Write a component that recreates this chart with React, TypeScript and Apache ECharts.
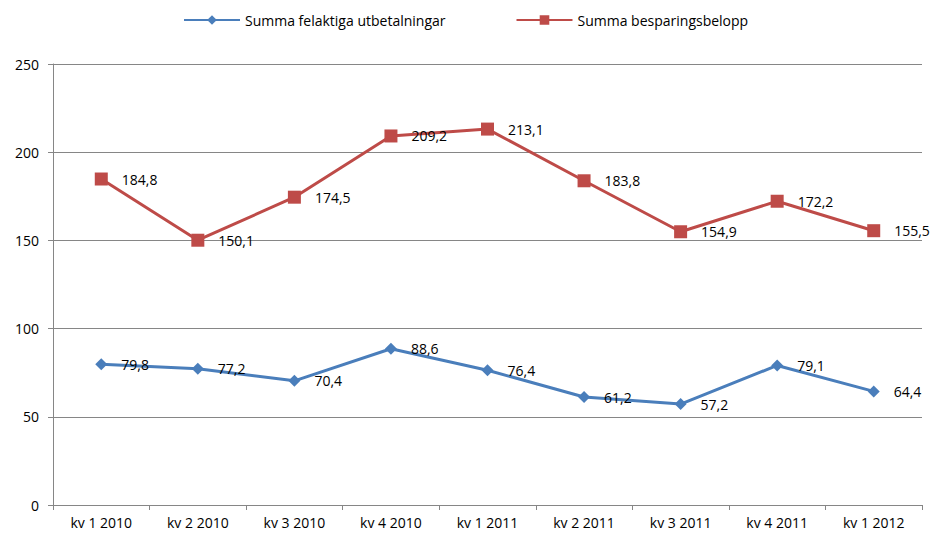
import React, { useEffect, useRef } from "react";
import * as echarts from "echarts";

const categories = ["kv 1 2010", "kv 2 2010", "kv 3 2010", "kv 4 2010", "kv 1 2011", "kv 2 2011", "kv 3 2011", "kv 4 2011", "kv 1 2012"];
const felaktiga = [79.8, 77.2, 70.4, 88.6, 76.4, 61.2, 57.2, 79.1, 64.4];
const besparing = [184.8, 150.1, 174.5, 209.2, 213.1, 183.8, 154.9, 172.2, 155.5];
const seriesNames = ["Summa felaktiga utbetalningar", "Summa besparingsbelopp"];

const FONT = "'Open Sans', 'Liberation Sans', sans-serif";

export default function App() {
  const ref = useRef<HTMLDivElement>(null);
  useEffect(() => {
    if (!ref.current) return;
    const chart = echarts.init(ref.current, undefined, { renderer: "svg" });
    const fmt = (p: any) => String(p.value).replace(".", ",");
    chart.setOption({
      animation: false,
      backgroundColor: "#ffffff",
      legend: {
        top: 8,
        left: 178,
        itemWidth: 56,
        itemHeight: 12,
        itemGap: 70,
        textStyle: { fontFamily: FONT, fontSize: 14, color: "#000" },
        data: seriesNames,
      },
      grid: { left: 53, right: 16, top: 64, bottom: 35 },
      xAxis: {
        type: "category",
        data: categories,
        boundaryGap: true,
        axisLine: { lineStyle: { color: "#868686" } },
        axisTick: { show: true, length: 5, lineStyle: { color: "#868686" } },
        axisLabel: { fontFamily: FONT, fontSize: 14, color: "#000", margin: 10 },
      },
      yAxis: {
        type: "value",
        min: 0,
        max: 250,
        interval: 50,
        axisLine: { show: true, lineStyle: { color: "#868686" } },
        axisTick: { show: true, length: 5, lineStyle: { color: "#868686" } },
        splitLine: { lineStyle: { color: "#868686" } },
        axisLabel: { fontFamily: FONT, fontSize: 14, color: "#000", margin: 14 },
      },
      series: [
        {
          name: seriesNames[0],
          type: "line",
          data: felaktiga,
          symbol: "diamond",
          symbolSize: 12,
          itemStyle: { color: "#4a7ebb" },
          lineStyle: { width: 3, color: "#4a7ebb" },
          label: { show: true, position: "right", distance: 14, formatter: fmt, fontFamily: FONT, fontSize: 14, color: "#000" },
        },
        {
          name: seriesNames[1],
          type: "line",
          data: besparing,
          symbol: "rect",
          symbolSize: 13,
          itemStyle: { color: "#be4b48" },
          lineStyle: { width: 3, color: "#be4b48" },
          label: { show: true, position: "right", distance: 14, formatter: fmt, fontFamily: FONT, fontSize: 14, color: "#000" },
        },
      ],
    });
    return () => chart.dispose();
  }, []);
  return <div ref={ref} style={{ width: 938, height: 540, position: "absolute", left: 0, top: 0 }} />;
}
